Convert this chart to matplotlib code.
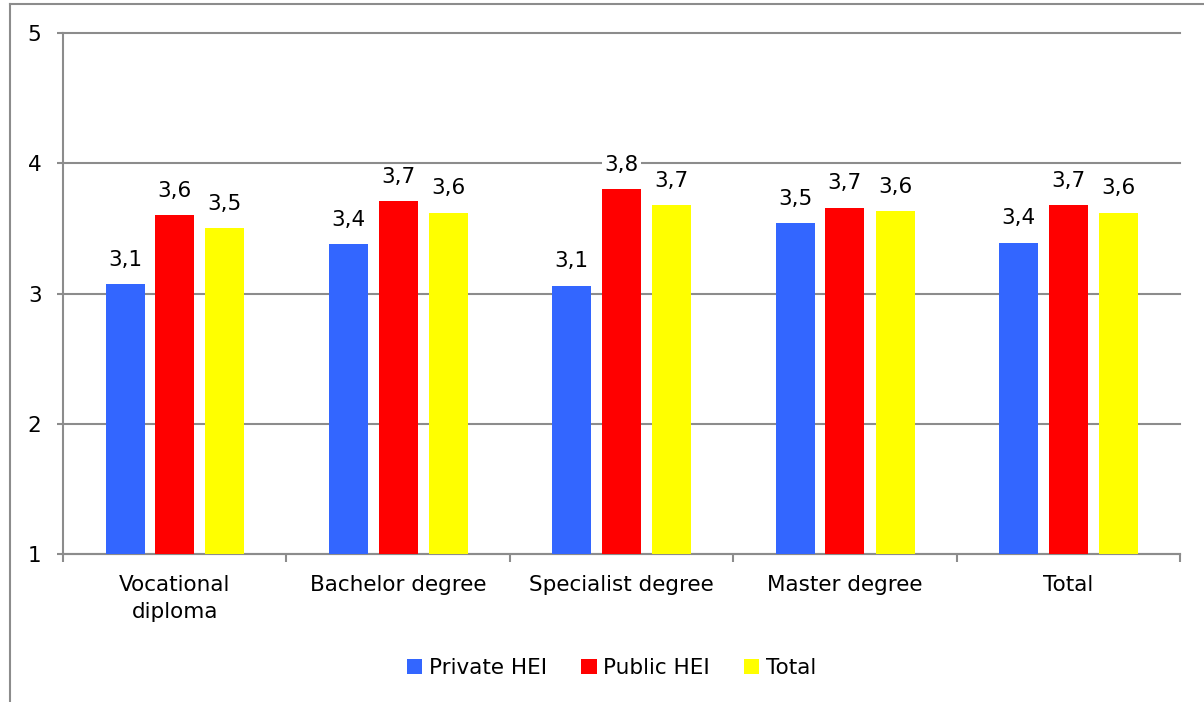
import matplotlib
matplotlib.use('Agg')
import matplotlib.pyplot as plt
from matplotlib.lines import Line2D
import numpy as np

## data
categories = ['Vocational\ndiploma', 'Bachelor degree', 'Specialist degree', 'Master degree', 'Total']
private_hei = [3.07, 3.38, 3.06, 3.54, 3.39]
public_hei = [3.60, 3.71, 3.80, 3.66, 3.68]
total = [3.50, 3.62, 3.68, 3.63, 3.62]

series = [('Private HEI', private_hei, '#3366FF'),
          ('Public HEI', public_hei, '#FF0000'),
          ('Total', total, '#FFFF00')]

plt.rcParams['font.family'] = ['DejaVu Sans']
grey = '#8c8c8c'
fs = 15.5

fig = plt.figure(figsize=(12.04, 7.02), dpi=100)
ax = fig.add_axes([0.0523, 0.2108, 0.9277, 0.7422])

x = np.arange(len(categories))
width = 0.175
offsets = [-0.222, 0.0, 0.225]

for (name, vals, col), off in zip(series, offsets):
    ax.bar(x + off, np.array(vals) - 1, width, bottom=1, color=col, label=name, zorder=3)
    for xi, v in zip(x, vals):
        ax.text(xi + off, v + 0.11, ('%.1f' % v).replace('.', ','), ha='center', va='bottom',
                fontsize=fs, color='black', zorder=4,
                bbox=dict(facecolor='white', edgecolor='none', pad=1.5))

ax.set_xlim(-0.5, len(categories) - 0.5)
ax.set_ylim(1, 5)
ax.set_yticks([1, 2, 3, 4, 5])
ax.yaxis.grid(True, color=grey, linewidth=1.5, zorder=0)
ax.set_axisbelow(True)
for gl in ax.get_ygridlines():
    gl.set_clip_on(False)

# ticks on category boundaries
ax.set_xticks(np.arange(-0.5, len(categories), 1.0))
ax.set_xticklabels([])
ax.set_xticks(x, minor=True)
ax.set_xticklabels(categories, minor=True, fontsize=fs, linespacing=1.45)
ax.tick_params(axis='x', which='minor', length=0, pad=15)
ax.tick_params(axis='x', which='major', length=6, width=1.5, color=grey, direction='out')
ax.tick_params(axis='y', length=4.5, width=1.5, color=grey, labelsize=fs, pad=11)

for s in ['top', 'right']:
    ax.spines[s].set_visible(False)
for s in ['left', 'bottom']:
    ax.spines[s].set_color(grey)
    ax.spines[s].set_linewidth(1.5)

fig.legend(loc='center', bbox_to_anchor=(0.508, 0.0484), ncol=3, frameon=False,
           fontsize=fs, handlelength=0.7, handleheight=0.7, handletextpad=0.3,
           columnspacing=1.6)

# outer chart border
fig.add_artist(Line2D([0.0083, 0.0083], [0.0, 0.994], color=grey, linewidth=1.5))
fig.add_artist(Line2D([0.0083, 1.0], [0.994, 0.994], color=grey, linewidth=1.5))

plt.savefig('out.png', dpi=100)
